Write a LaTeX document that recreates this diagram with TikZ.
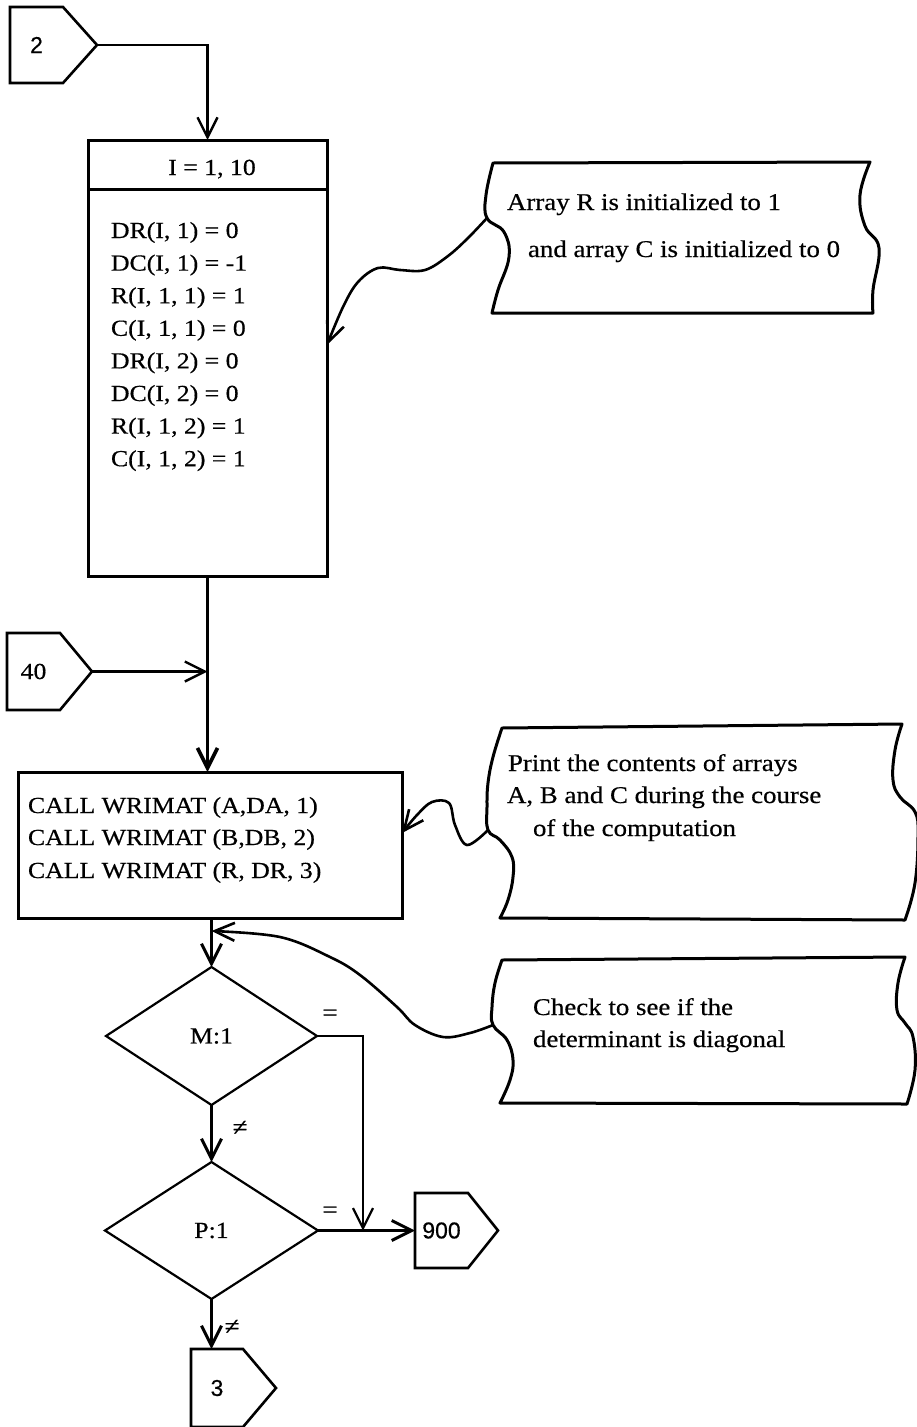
\documentclass[tikz,border=0pt]{standalone}
\usepackage{fontspec}
\setmainfont{Liberation Serif}[FakeStretch=1.12, FakeBold=0.5]
\newfontfamily\tagfont{Liberation Sans}[FakeBold=0.5]
\usetikzlibrary{arrows.meta,calc,shapes.geometric}
\begin{document}
\begin{tikzpicture}[x=1pt,y=-1pt,
  every node/.style={inner sep=0pt, outer sep=0pt},
  box/.style={draw, rectangle, line width=3pt},
  decision/.style={draw, diamond, line width=2.2pt},
  tag/.style={rectangle, minimum width=53pt},
  flow/.style={line width=3pt, -{Straight Barb[length=20pt,width=20pt]}},
  plain/.style={line width=2.6pt},
  note/.style={draw, line width=3pt, line join=round},
  remark/.style={line width=2.6pt, -{Straight Barb[length=20pt,width=18pt]}},
  txt/.style={font=\fontsize{23}{28}\selectfont},
  ntxt/.style={font=\fontsize{24}{28}\selectfont},
  tagtxt/.style={font=\tagfont\fontsize{23}{27}\selectfont},
  sign/.style={font=\fontsize{24}{28}\selectfont}
]
\useasboundingbox (0,0) rectangle (916,1427);

% ---- off-page connectors ----
\node[tag, minimum height=76pt, tagtxt] (t2) at (36.5,45) {2};
\draw[plain] (t2.north west) -- (t2.north east) -- ($(t2.east)+(34,0)$) coordinate (t2tip)
  -- (t2.south east) -- (t2.south west) -- cycle;

\node[tag, minimum height=77pt, txt] (t40) at (33.5,671.5) {40};
\draw[plain] (t40.north west) -- (t40.north east) -- ($(t40.east)+(32,0)$) coordinate (t40tip)
  -- (t40.south east) -- (t40.south west) -- cycle;

\node[tag, minimum height=75pt, tagtxt] (t900) at (441.5,1230.5) {900};
\draw[plain] (t900.north west) -- (t900.north east) -- ($(t900.east)+(30,0)$)
  -- (t900.south east) -- (t900.south west) -- cycle;

\node[tag, minimum width=52pt, minimum height=78pt, tagtxt] (t3) at (217,1388) {3};
\draw[plain] (t3.north west) -- (t3.north east) -- ($(t3.east)+(33,0)$)
  -- (t3.south east) -- (t3.south west) -- cycle;

% ---- loop box ----
\node[box, minimum width=239pt, minimum height=436pt] (loop) at (207.5,358) {};
\draw[line width=3pt] ($(loop.north west)+(0,49)$) -- ($(loop.north east)+(0,49)$);
\node[txt, anchor=base] (head) at (212,175) {I = 1, 10};
\foreach \t [count=\i] in {{DR(I, 1) = 0}, {DC(I, 1) = -1}, {R(I, 1, 1) = 1}, {C(I, 1, 1) = 0},
    {DR(I, 2) = 0}, {DC(I, 2) = 0}, {R(I, 1, 2) = 1}, {C(I, 1, 2) = 1}}
  \node[txt, anchor=base west] (ln\i) at (111, {238+32.6*(\i-1)}) {\t};

% ---- print box ----
\node[box, minimum width=384pt, minimum height=146pt] (call) at (210,845) {};
\node[txt, anchor=base west] (cl1) at (28,813) {CALL WRIMAT (A,DA, 1)};
\node[txt, anchor=base west] (cl2) at (28,845) {CALL WRIMAT (B,DB, 2)};
\node[txt, anchor=base west] (cl3) at (28,878) {CALL WRIMAT (R, DR, 3)};

% ---- decisions ----
\node[decision, minimum width=211pt, minimum height=138pt, txt] (dm) at (211.5,1036) {M:1};
\node[decision, minimum width=213pt, minimum height=137pt, txt] (dp) at (211.5,1230.5) {P:1};

% ---- flow lines ----
\draw[flow, line width=2.4pt] (t2tip) -| (loop.north);
\coordinate (j40) at (loop.south |- t40tip);
\draw[flow, line width=2.4pt] (t40tip) -- (j40);
\draw[flow, line width=3.6pt] (loop.south) -- (loop.south |- call.north);
\draw[flow] (dm.north |- call.south) -- (dm.north);
\draw[flow] (dm.south) -- (dp.north);
\draw[flow] (dp.south) -- (dp.south |- t3.north);
\coordinate (mr) at ($(dm.east)+(46,0)$);
\coordinate (jp) at (mr |- dp.east);
\draw[flow, line width=2.2pt] (dm.east) -| (jp);
\draw[flow] (dp.east) -- (t900.west);

\node[sign] (eq1) at (330,1015) {=};
\node[sign] (ne1) at (240,1128) {≠};
\node[sign] (eq2) at (330,1212) {=};
\node[sign] (ne2) at (232,1327) {≠};

% ---- annotations ----
\draw[note] (493,163) -- (870,162) -- plot[smooth, tension=0.7] coordinates
  {(870,162) (860,195) (865,226) (879,248) (873,290) (873,313)}
  -- (492,313) -- plot[smooth, tension=0.7] coordinates
  {(492,313) (498,290) (509,257) (504,232) (487,218) (486,195) (493,163)} -- cycle;
\coordinate (n1port) at (487,218);
\node[ntxt, anchor=base west] (n1a) at (507,210) {Array R is initialized to 1};
\node[ntxt, anchor=base west] (n1b) at (528,257) {and array C is initialized to 0};
\coordinate (b1in) at ($(loop.east)+(0,-13)$);
\draw[remark] plot[smooth, tension=0.6] coordinates
  {(n1port) (468,238) (448,256) (425,270) (400,270) (378,268) (358,282) (343,307) (b1in)};

\draw[note] (502,728) -- (902,724) -- plot[smooth, tension=0.7] coordinates
  {(902,724) (895,750) (893,780) (900,797) (915,812) (918,835) (915,883) (905,920)}
  -- (500,918) -- plot[smooth, tension=0.7] coordinates
  {(500,918) (508,900) (513,877) (512,857) (500,840) (488,830) (487,807) (488,783) (493,757) (502,728)} -- cycle;
\coordinate (n2port) at (488,830);
\node[ntxt, anchor=base west] (n2a) at (508,771) {Print the contents of arrays};
\node[ntxt, anchor=base west] (n2b) at (507,803) {A, B and C during the course};
\node[ntxt, anchor=base west] (n2c) at (533,836) {of the computation};
\coordinate (cin) at ($(call.east)+(0,-12)$);
\draw[remark] plot[smooth, tension=0.6] coordinates
  {(n2port) (467,845) (455,825) (449,803) (432,802) (417,815) (cin)};

\draw[note] (502,960) -- (905,957) -- plot[smooth, tension=0.7] coordinates
  {(905,957) (898,983) (897,1010) (905,1023) (913,1037) (915,1070) (907,1104)}
  -- (500,1103) -- plot[smooth, tension=0.7] coordinates
  {(500,1103) (510,1080) (513,1060) (507,1040) (493,1025) (492,1007) (495,983) (502,960)} -- cycle;
\coordinate (n3port) at (493,1025);
\node[ntxt, anchor=base west] (n3a) at (533,1015) {Check to see if the};
\node[ntxt, anchor=base west] (n3b) at (533,1047) {determinant is diagonal};
\coordinate (loopback) at ($(dm.north |- call.south)+(0,13)$);
\draw[remark] plot[smooth, tension=0.6] coordinates
  {(n3port) (470,1033) (443,1037) (415,1025) (397,1007) (360,975) (330,957) (280,937) (loopback)};
\end{tikzpicture}
\end{document}
